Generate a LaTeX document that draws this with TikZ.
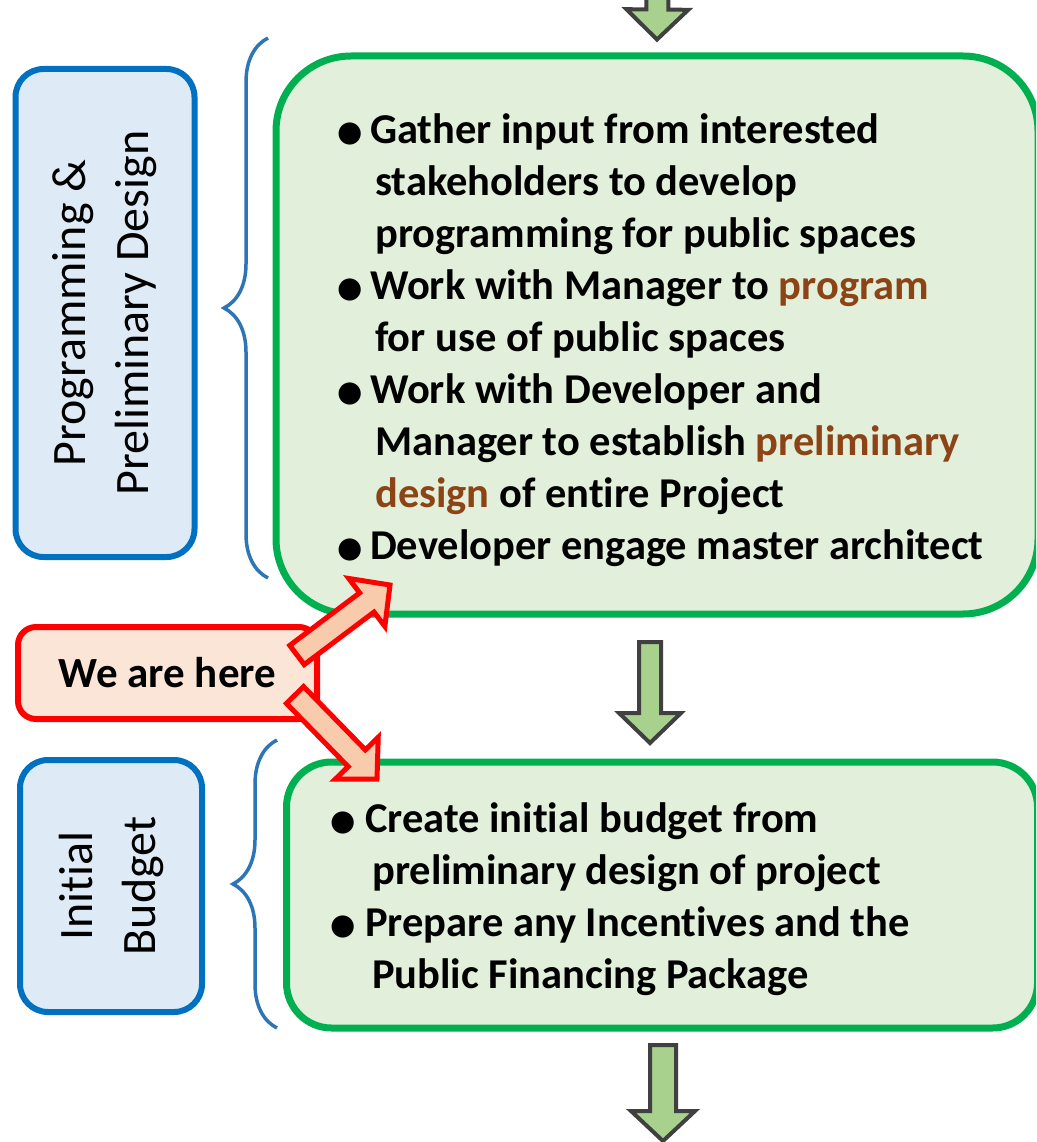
\documentclass[tikz,border=0pt]{standalone}
\usepackage{fontspec}
\setmainfont{Carlito}[Ligatures=NoCommon]
\newfontfamily\dotfont{DejaVu Sans}
\usetikzlibrary{calc,positioning,decorations.pathreplacing}

\definecolor{grnline}{RGB}{0,176,80}
\definecolor{grnfill}{RGB}{226,239,218}
\definecolor{bluline}{RGB}{0,112,192}
\definecolor{blufill}{RGB}{222,235,247}
\definecolor{brccol}{RGB}{46,117,182}
\definecolor{herefill}{RGB}{251,229,214}
\definecolor{redarr}{RGB}{248,203,173}
\definecolor{arrline}{RGB}{64,64,64}
\definecolor{arrfill}{RGB}{169,209,142}
\definecolor{brn}{RGB}{140,68,22}

\newcommand{\bul}[1][33pt]{\makebox[#1][l]{\raisebox{2pt}{\fontsize{29}{29}\dotfont ●}}}

\tikzset{
  ba shaft/.store in=\bashaft, ba head/.store in=\bahead, ba len/.store in=\balen,
  ba shaft=11pt, ba head=31pt, ba len=30pt,
  blockarrow/.style={to path={
    ($(\tikztostart)!\bashaft!90:(\tikztotarget)$)
    -- ($(\tikztotarget)!\balen!(\tikztostart)!\bashaft!90:(\tikztotarget)$)
    -- ($(\tikztotarget)!\balen!(\tikztostart)!\bahead!90:(\tikztotarget)$)
    -- (\tikztotarget)
    -- ($(\tikztotarget)!\balen!(\tikztostart)!\bahead!-90:(\tikztotarget)$)
    -- ($(\tikztotarget)!\balen!(\tikztostart)!\bashaft!-90:(\tikztotarget)$)
    -- ($(\tikztostart)!\bashaft!-90:(\tikztotarget)$) -- cycle}},
  grayarrow/.style={blockarrow, draw=arrline, fill=arrfill, line width=4pt},
  redarrow/.style={blockarrow, draw=red, fill=redarr, line width=5pt,
    ba shaft=12pt, ba head=30pt, ba len=29pt},
  greenbox/.style={draw=grnline, fill=grnfill, line width=7pt},
  bluebox/.style={draw=bluline, fill=blufill, line width=6pt, rounded corners=28pt,
    align=center, font=\fontsize{48}{63}\selectfont},
  herebox/.style={draw=red, fill=herefill, line width=6pt, rounded corners=18pt,
    font=\bfseries\fontsize{43}{50}\selectfont},
  tasktext/.style={align=left, anchor=west, inner sep=0pt,
    font=\bfseries\fontsize{42.5}{52}\selectfont},
  brc/.style={draw=brccol, line width=3.5pt, decorate,
    decoration={brace, amplitude=44pt}}
}

\begin{document}
\begin{tikzpicture}[x=1pt,y=-1pt]
\useasboundingbox (0,0) rectangle (1036,1142);
\clip (0,0) rectangle (1036,1142);
% ==========================================
% stage 1
\node[bluebox, rotate=90, minimum width=488pt, minimum height=179pt] (progbox) at (105,313)
  {Programming \&\\Preliminary Design};
\draw[brc] (268,578) -- (268,38);
\node[greenbox, minimum width=762pt, minimum height=558pt, rounded corners=75pt] (progtask) at (657,335) {};
\node[tasktext] (progtxt) at (337,340) {
\bul Gather input from interested\\
\hspace*{38pt}stakeholders to develop\\
\hspace*{38pt}programming for public spaces\\
\bul Work with Manager to \textcolor{brn}{program}\\
\hspace*{38pt}for use of public spaces\\
\bul Work with Developer and\\
\hspace*{38pt}Manager to establish \textcolor{brn}{preliminary}\\
\hspace*{38pt}\textcolor{brn}{design} of entire Project\\
\bul Developer engage master architect
};
%
% stage 2
\node[bluebox, rotate=90, minimum width=252pt, minimum height=182pt] (budbox) at (111,886)
  {Initial\\Budget};
\draw[brc] (277,1028) -- (277,740);
\node[greenbox, minimum width=751pt, minimum height=266pt, rounded corners=45pt] (budtask) at (662,895) {};
\node[tasktext] (budtxt) at (330,899) {
\bul[35pt]Create initial budget from\\
\hspace*{42pt}preliminary design of project\\
\bul[35pt]Prepare any Incentives and the\\
\hspace*{42pt}Public Financing Package
};
%
% flow arrows
\coordinate (topin) at (658,-60);
\coordinate (toptip) at ([yshift=13pt]progtask.north);
\draw[grayarrow] (topin) to (toptip);
\coordinate (midtail) at (650,642);
\coordinate (midtip) at (650,743);
\draw[grayarrow] (midtail) to (midtip);
\coordinate (bottail) at (663,1045);
\coordinate (bottip) at (663,1141);
\draw[grayarrow, ba shaft=13pt, ba head=32pt] (bottail) to (bottip);
%
% we are here
\node[herebox, minimum width=299pt, minimum height=92pt] (here) at (167.5,673) {We are here};
\coordinate (uptail) at ([xshift=-23pt,yshift=18pt]here.east);
\coordinate (uptip) at (390,585);
\coordinate (dntail) at ([xshift=-25pt,yshift=-22pt]here.east);
\coordinate (dntip) at (377,779);
\draw[redarrow] (uptail) to (uptip);
\draw[redarrow] (dntail) to (dntip);
% =============================================
\end{tikzpicture}
\end{document}
